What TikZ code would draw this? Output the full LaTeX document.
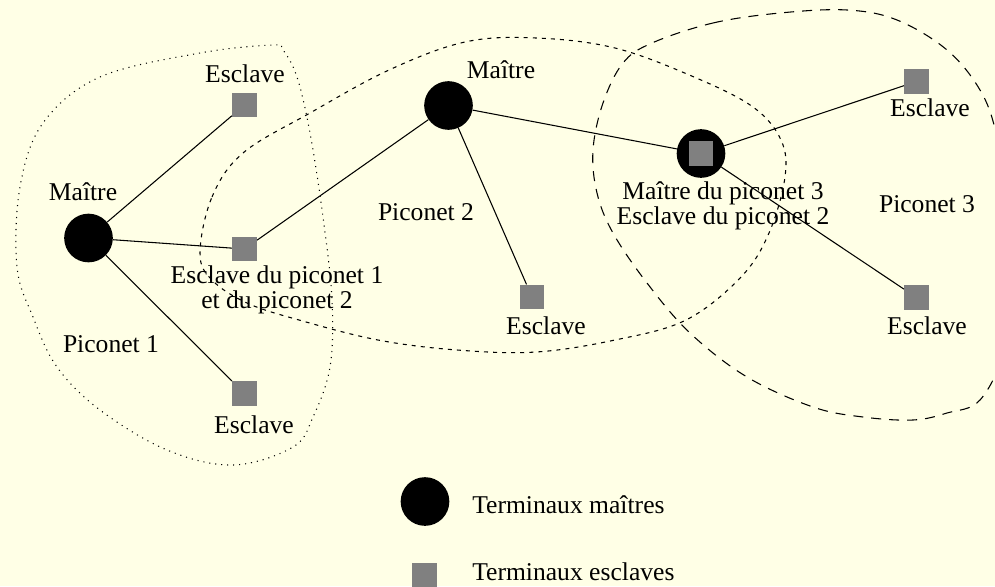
\documentclass[tikz,border=0pt]{standalone}
\usepackage{fontspec}
\setmainfont{Liberation Serif}
\definecolor{paper}{RGB}{255,255,230}
\definecolor{slavegray}{RGB}{128,128,128}
\begin{document}
\begin{tikzpicture}[x=0.75pt,y=-0.75pt,
  font=\fontsize{19.2}{19}\selectfont,
  master/.style={circle,fill=black,minimum size=36.5pt,inner sep=0pt},
  slave/.style={rectangle,fill=slavegray,minimum size=18.5pt,inner sep=0pt},
  lbl/.style={inner sep=0pt,anchor=base,align=center},
  link/.style={line width=0.8pt},
  zone1/.style={line width=0.8pt,dash pattern=on 0.8pt off 3.7pt},
  zone2/.style={line width=0.8pt,dash pattern=on 3pt off 3.8pt},
  zone3/.style={line width=0.8pt,dash pattern=on 7.5pt off 6pt}]
  \fill[paper] (0,0) rectangle (995,586);
  \useasboundingbox (0,0) rectangle (995,586);
  \begin{scope}
  \clip (0,0) rectangle (995,586);

  % piconet outlines
  \draw[zone1] plot[smooth cycle,tension=0.6] coordinates {
    (273,45) (200,53) (100,77) (43,123) (20,187) (17,267) (33,317) (57,367)
    (100,410) (167,450) (233,465) (293,447) (313,417) (330,367) (332,300)
    (323,217) (310,133) (297,77) (283,50)};
  \draw[zone2] plot[smooth cycle,tension=0.6] coordinates {
    (200,253) (212,197) (243,153) (310,113) (389,70) (465,42) (536,38)
    (615,48) (694,77) (753,107) (781,140) (785,177) (769,233) (741,277)
    (686,320) (615,340) (536,352) (457,350) (378,340) (299,320) (247,303)
    (212,280)};
  \draw[zone3] plot[smooth cycle,tension=0.6] coordinates {
    (652,43) (713,23) (780,13) (847,10) (897,20) (947,50) (980,90) (996,133)
    (1006,200) (1010,280) (1004,350) (980,400) (947,413) (913,420) (863,417)
    (813,407) (747,377) (690,333) (647,283) (613,233) (597,193) (593,150)
    (603,103) (623,63)};
  \end{scope}

  % terminals
  \node[master] (m1) at (88.5,238) {};
  \node[master] (m2) at (448.5,105.5) {};
  \node[master] (m3) at (701,153.5) {};
  \node[slave] (m3s) at (701,153.5) {};
  \node[slave] (s1a) at (244.5,105) {};
  \node[slave] (s1b) at (244.5,249) {};
  \node[slave] (s1c) at (244.5,393.5) {};
  \node[slave] (s2a) at (532,297) {};
  \node[slave] (s3a) at (916.5,81.5) {};
  \node[slave] (s3b) at (916.5,297.5) {};

  % links
  \draw[link] (m1) -- (s1a);
  \draw[link] (m1) -- (s1b);
  \draw[link] (m1) -- (s1c);
  \draw[link] (s1b) -- (m2);
  \draw[link] (m2) -- (s2a);
  \draw[link] (m2) -- (m3);
  \draw[link] (m3) -- (s3a);
  \draw[link] (m3) -- (s3b);

  % labels
  \node[lbl] (t1) at (83,200) {Maître};
  \node[lbl] (t2) at (245,82) {Esclave};
  \node[lbl,anchor=north] (t3) at (277,265) {Esclave du piconet 1\\et du piconet 2};
  \node[lbl] (t4) at (111,352) {Piconet 1};
  \node[lbl] (t5) at (254,433) {Esclave};
  \node[lbl] (t6) at (501,78) {Maître};
  \node[lbl] (t7) at (426,220) {Piconet 2};
  \node[lbl] (t8) at (546,334) {Esclave};
  \node[lbl,anchor=north] (t9) at (723,181) {Maître du piconet 3\\Esclave du piconet 2};
  \node[lbl] (t10) at (930,116) {Esclave};
  \node[lbl] (t11) at (927,212) {Piconet 3};
  \node[lbl] (t12) at (927,334) {Esclave};

  % legend
  \node[master] (lm) at (425,501.5) {};
  \node[slave] (ls) at (424.5,575.5) {};
  \node[lbl,anchor=base west] (lt1) at (472,513) {Terminaux maîtres};
  \node[lbl,anchor=base west] (lt2) at (472,580) {Terminaux esclaves};
\end{tikzpicture}
\end{document}
